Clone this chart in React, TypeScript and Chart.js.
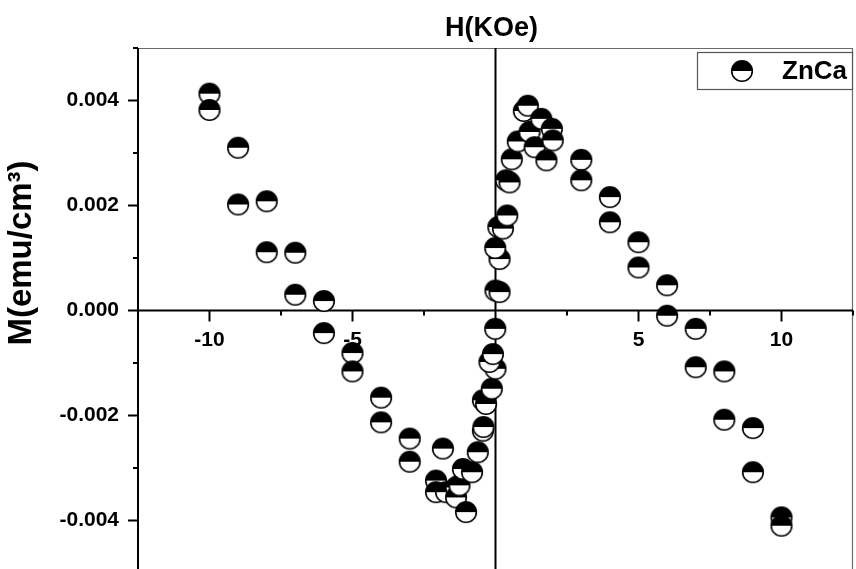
import React, { useEffect, useRef } from "react";
import { Chart, registerables } from "chart.js";

Chart.register(...registerables);

// Applied field H (kOe)
const H = [
  -10.0, -10.0, -9.0, -9.0, -8.0, -8.0, -7.0, -7.0, -6.0, -6.0,
  -5.0, -5.0, -4.0, -4.0, -3.0, -3.0, -1.84, -2.08, -2.08, -1.73,
  -1.38, -1.38, -1.26, -1.03, -1.14, -0.82, -0.62, -0.44, -0.42, -0.44,
  -0.33, -0.13, 0.0, -0.21, -0.09, -0.01, 0.0, 0.14, 0.14, -0.01,
  0.1, 0.26, 0.41, 0.37, 0.49, 0.57, 0.78, 0.99, 1.13, 1.19,
  1.37, 1.6, 1.97, 2.0, 1.78, 3.0, 3.0, 4.0, 4.0, 5.0,
  5.0, 6.0, 6.0, 7.0, 7.0, 8.0, 8.0, 9.0, 9.0, 10.0, 10.0,
];

// Magnetization M (emu/cm3)
const M = [
  0.00413, 0.00382, 0.0031, 0.00202, 0.00208, 0.00111, 0.0011, 0.0003, 0.00018, -0.00043,
  -0.00081, -0.00116, -0.00166, -0.00213, -0.00244, -0.00288, -0.00263, -0.00324, -0.00346, -0.00346,
  -0.00337, -0.00356, -0.00333, -0.00384, -0.00302, -0.00308, -0.0027, -0.00229, -0.00222, -0.00171,
  -0.00178, -0.00149, -0.00111, -0.00098, -0.00083, -0.00035, 0.00038, 0.00035, 0.00098, 0.00119,
  0.00159, 0.00156, 0.00181, 0.00248, 0.00244, 0.00288, 0.00322, 0.0038, 0.0039, 0.0034,
  0.00311, 0.00365, 0.00346, 0.00324, 0.00286, 0.00287, 0.00248, 0.00216, 0.00168, 0.0013,
  0.00082, 0.00048, -0.0001, -0.00035, -0.00108, -0.00116, -0.00208, -0.00224, -0.00308, -0.00394, -0.0041,
];

const SERIES_NAME = "ZnCa";
const TITLE = "H(KOe)";
const Y_TITLE = "M(emu/cm\u00B3)";

const X_MIN = -12.5;
const X_MAX = 12.5;
const X_STEP = 2.5;
const X_LABELED = [-10, -5, 5, 10];

const Y_MIN = -0.005;
const Y_MAX = 0.005;
const Y_STEP = 0.001;
const Y_LABELED = [-0.004, -0.002, 0, 0.002, 0.004];

const FONT = "'Liberation Sans', Arial, sans-serif";

function makeMarker(): HTMLCanvasElement {
  const c = document.createElement("canvas");
  c.width = 26;
  c.height = 26;
  const g = c.getContext("2d")!;
  const cx = 13, cy = 13, r = 10.3;
  g.fillStyle = "#ffffff";
  g.beginPath();
  g.arc(cx, cy, r, 0, Math.PI * 2);
  g.fill();
  g.fillStyle = "#000000";
  g.beginPath();
  g.arc(cx, cy, r, Math.PI, Math.PI * 2);
  g.closePath();
  g.fill();
  g.strokeStyle = "#000000";
  g.lineWidth = 1.6;
  g.beginPath();
  g.arc(cx, cy, r, 0, Math.PI * 2);
  g.stroke();
  return c;
}

const near = (a: number, b: number) => Math.abs(a - b) < 1e-9;

export default function App() {
  const ref = useRef<HTMLCanvasElement | null>(null);

  useEffect(() => {
    const canvas = ref.current;
    if (!canvas) return;
    const marker = makeMarker();

    const axesPlugin = {
      id: "originAxes",
      beforeDatasetsDraw(chart: any) {
        const { ctx, chartArea: a, scales } = chart;
        const xs = scales.x, ys = scales.y;
        const x0 = xs.getPixelForValue(0);
        const y0 = ys.getPixelForValue(0);
        const line = (x1: number, y1: number, x2: number, y2: number) => {
          ctx.beginPath();
          ctx.moveTo(x1, y1);
          ctx.lineTo(x2, y2);
          ctx.stroke();
        };
        ctx.save();
        // frame top/right
        ctx.strokeStyle = "#6a6a6a";
        ctx.lineWidth = 1.2;
        line(a.left, a.top + 0.5, a.right, a.top + 0.5);
        line(a.right - 0.5, a.top, a.right - 0.5, a.bottom);
        // left axis + ticks
        ctx.strokeStyle = "#000";
        ctx.lineWidth = 2;
        line(a.left, a.top, a.left, a.bottom);
        for (let v = Y_MIN; v <= Y_MAX + 1e-12; v += Y_STEP) {
          const py = ys.getPixelForValue(v);
          const major = Y_LABELED.some((t) => near(t, v));
          line(a.left - (major ? 10 : 5), py, a.left, py);
        }
        // axes through origin
        line(a.left, y0, a.right, y0);
        line(x0, a.top, x0, a.bottom);
        for (let v = X_MIN; v <= X_MAX + 1e-9; v += X_STEP) {
          if (near(v, 0)) continue;
          const px = xs.getPixelForValue(v);
          const major = X_LABELED.some((t) => near(t, v));
          line(px, y0, px, y0 + (major ? 11 : 5));
        }
        ctx.restore();
      },
      afterDraw(chart: any) {
        const { ctx, chartArea: a } = chart;
        ctx.save();
        ctx.fillStyle = "#000";
        // title
        ctx.font = `bold 27px ${FONT}`;
        ctx.textAlign = "center";
        ctx.textBaseline = "alphabetic";
        ctx.fillText(TITLE, (a.left + a.right) / 2 - 4, 36);
        // y title
        ctx.save();
        ctx.translate(22, 253);
        ctx.rotate(-Math.PI / 2);
        ctx.font = `bold 33px ${FONT}`;
        ctx.textAlign = "center";
        ctx.textBaseline = "middle";
        ctx.fillText(Y_TITLE, 0, 0);
        ctx.restore();
        // legend
        const lx = 697, ly = 52, lw = a.right - 1 - lx, lh = 37;
        ctx.fillStyle = "#fff";
        ctx.fillRect(lx, ly, lw, lh);
        ctx.strokeStyle = "#555";
        ctx.lineWidth = 1.2;
        ctx.strokeRect(lx + 0.5, ly + 0.5, lw, lh);
        ctx.drawImage(marker, 742 - 13, 71 - 13);
        ctx.fillStyle = "#000";
        ctx.font = `bold 26px ${FONT}`;
        ctx.textAlign = "left";
        ctx.textBaseline = "middle";
        ctx.fillText(SERIES_NAME, 782, 72);
        ctx.restore();
      },
    };

    const chart = new Chart(canvas, {
      type: "scatter",
      data: {
        datasets: [
          {
            label: SERIES_NAME,
            data: H.map((h, i) => ({ x: h, y: M[i] })),
            pointStyle: marker as any,
            pointRadius: 10,
            pointHoverRadius: 10,
          },
        ],
      },
      options: {
        responsive: false,
        animation: false,
        devicePixelRatio: 1,
        layout: { padding: { top: 48, right: 3, bottom: 8, left: 0 } },
        plugins: {
          legend: { display: false },
          tooltip: { enabled: false },
          title: { display: false },
        },
        scales: {
          x: {
            type: "linear",
            min: X_MIN,
            max: X_MAX,
            position: { y: 0 } as any,
            grid: { display: false, drawTicks: false },
            border: { display: false },
            afterFit: (s: any) => {
              s.height = 0;
              s.paddingLeft = 0;
              s.paddingRight = 0;
              s.paddingTop = 0;
              s.paddingBottom = 0;
            },
            ticks: {
              stepSize: X_STEP,
              autoSkip: false,
              maxRotation: 0,
              padding: 17,
              color: "#000",
              font: { family: FONT, size: 21, weight: "bold" },
              callback: (v: any) => (X_LABELED.some((t) => near(t, Number(v))) ? String(v) : ""),
            },
          },
          y: {
            type: "linear",
            min: Y_MIN,
            max: Y_MAX,
            position: "left",
            grid: { display: false, drawTicks: false },
            border: { display: false },
            afterFit: (s: any) => {
              s.width = 138;
              s.paddingTop = 0;
              s.paddingBottom = 0;
            },
            ticks: {
              stepSize: Y_STEP,
              autoSkip: false,
              padding: 19,
              color: "#000",
              font: { family: FONT, size: 21, weight: "bold" },
              callback: (v: any) => {
                const n = Number(v);
                return Y_LABELED.some((t) => near(t, n)) ? (Math.abs(n) < 1e-12 ? 0 : n).toFixed(3) : "";
              },
            },
          },
        },
      },
      plugins: [axesPlugin],
    });

    return () => chart.destroy();
  }, []);

  return (
    <div style={{ position: "fixed", left: 0, top: 0, width: 864, height: 584, background: "#fff" }}>
      <canvas ref={ref} width={864} height={584} style={{ display: "block" }} />
    </div>
  );
}
